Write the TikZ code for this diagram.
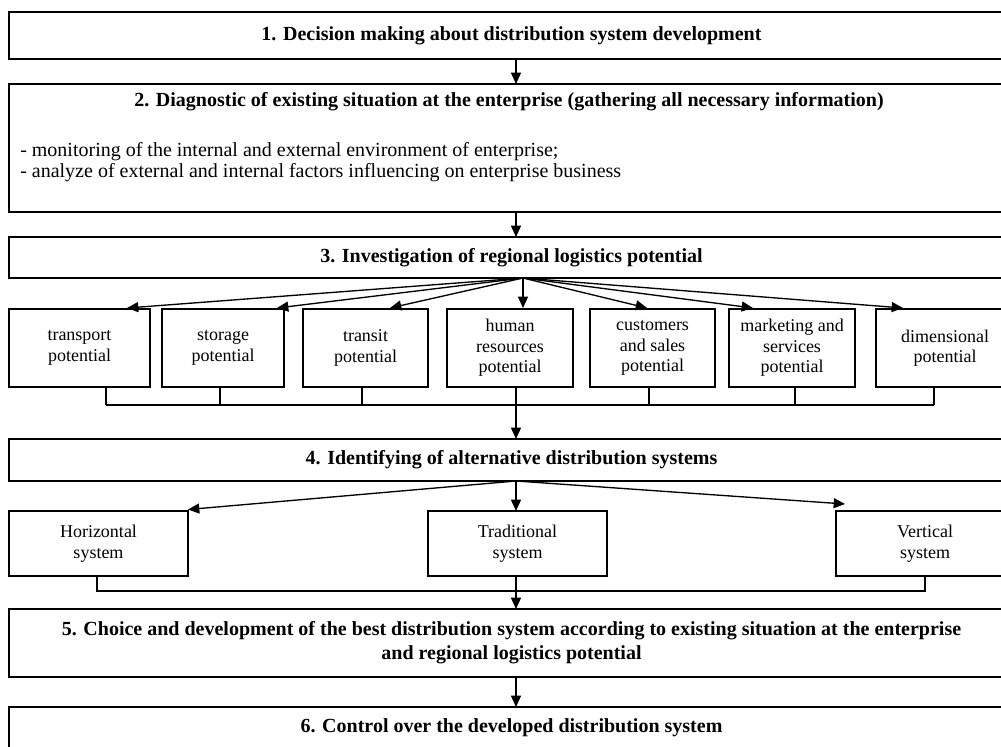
\documentclass[tikz,border=0pt]{standalone}
\usepackage{fontspec}
\setmainfont{Liberation Serif}
\usetikzlibrary{arrows.meta,calc}
\newcommand{\ttlfont}{\fontsize{15}{18}\selectfont\bfseries}
\newcommand{\txtfont}{\fontsize{15}{15.75}\selectfont}
\newcommand{\smfont}{\fontsize{13.5}{15.4}\selectfont}
\begin{document}
\begin{tikzpicture}[x=0.75pt,y=-0.75pt,
  bx/.style 2 args={draw=black, line width=1pt, inner sep=0pt, outer sep=0pt,
     minimum width=#1*0.75pt, minimum height=#2*0.75pt, align=center},
  ln/.style={draw=black, line width=1pt},
  arr/.style={ln, -{Triangle[length=8.5pt,width=7.5pt]}}]
\useasboundingbox (0,0) rectangle (1001,747);
\clip (0,0) rectangle (1001,747);
\fill[white] (0,0) rectangle (1001,747);

% main boxes
\node[bx={1005}{47}, font=\ttlfont] (b1) at (511.5,35.5) {1. Decision making about distribution system development};
\node[bx={1005}{128}] (b2) at (511.5,148) {};
\node[font=\ttlfont, inner sep=0pt] (b2t) at (509,102) {2. Diagnostic of existing situation at the enterprise (gathering all necessary information)};
\node[font=\txtfont, align=left, anchor=west, inner sep=0pt] (b2l) at (20,162) {- monitoring of the internal and external environment of enterprise;\\- analyze of external and internal factors influencing on enterprise business};
\node[bx={1005}{41}, font=\ttlfont] (b3) at (511.5,257.5) {3. Investigation of regional logistics potential};

% potentials
\node[bx={141}{78}, font=\smfont] (tr) at (79.5,348) {transport\\potential};
\node[bx={122}{78}, font=\smfont] (st) at (223,348) {storage\\potential};
\node[bx={125}{78}, font=\smfont] (ti) at (365.5,348) {transit\\potential};
\node[bx={126}{78}, font=\smfont] (hu) at (510,348) {human\\resources\\potential};
\node[bx={125}{78}, font=\smfont] (cu) at (652.5,348) {customers\\and sales\\potential};
\node[bx={126}{78}, font=\smfont] (ma) at (792,348) {marketing and\\services\\potential};
\node[bx={138}{78}, font=\smfont] (di) at (945,348) {dimensional\\potential};

\node[bx={1005}{42}, font=\ttlfont] (b4) at (511.5,460) {4. Identifying of alternative distribution systems};

\node[bx={179}{65}, font=\smfont] (ho) at (98.5,543.5) {Horizontal\\system};
\node[bx={179}{65}, font=\smfont] (tra) at (517.5,543.5) {Traditional\\system};
\node[bx={178}{65}, font=\smfont] (ve) at (925,543.5) {Vertical\\system};

\node[bx={1005}{68}, font=\ttlfont] (b5) at (511.5,643) {5. Choice and development of the best distribution system according to existing situation at the enterprise\\and regional logistics potential};
\node[bx={1005}{42}, font=\ttlfont] (b6) at (511.5,728) {6. Control over the developed distribution system};

% connectors
\draw[arr] ($(b1.south)+(4.5,0)$) -- ($(b2.north)+(4.5,0)$);
\draw[arr] ($(b2.south)+(4.5,0)$) -- ($(b3.north)+(4.5,0)$);

\coordinate (o3) at ($(b3.south)+(11.5,0)$);
\draw[arr] (o3) -- ($(tr.north)+(47.5,-1)$);
\draw[arr] (o3) -- ($(st.north)+(54,-1)$);
\draw[arr] (o3) -- ($(ti.north)+(24.5,-1)$);
\draw[arr] (o3) -- ($(hu.north)+(13,-1)$);
\draw[arr] (o3) -- ($(cu.north)+(-5.5,-1)$);
\draw[arr] (o3) -- ($(ma.north)+(-39,-1)$);
\draw[arr] (o3) -- ($(di.north)+(-42,-1)$);

\coordinate (busL) at ($(tr.south)+(26.5,18)$);
\coordinate (busR) at ($(di.south)+(-11,18)$);
\draw[ln] (busL) -- (busR);
\draw[ln] ($(tr.south)+(26.5,0)$) -- (busL);
\draw[ln] ($(st.south)+(-3,0)$) -- ++(0,18);
\draw[ln] ($(ti.south)+(-3.5,0)$) -- ++(0,18);
\draw[ln] ($(cu.south)+(-3.5,0)$) -- ++(0,18);
\draw[ln] ($(ma.south)+(3,0)$) -- ++(0,18);
\draw[ln] ($(di.south)+(-11,0)$) -- (busR);
\draw[arr] ($(hu.south)+(6,0)$) -- ($(b4.north)+(4.5,0)$);

\coordinate (o4) at ($(b4.south)+(4.5,0)$);
\draw[arr] (o4) -- ($(ho.north)+(89.5,-1.5)$);
\draw[arr] (o4) -- ($(tra.north)+(-1.5,0)$);
\draw[arr] (o4) -- ($(ve.north)+(-80,-7)$);

\coordinate (bus2L) at ($(ho.south)+(-1.5,15)$);
\coordinate (bus2R) at ($(ve.south)+(0,15)$);
\draw[ln] (ho.south -| bus2L) -- (bus2L) -- (bus2R) -- (ve.south);
\draw[arr] ($(tra.south)+(-1.5,0)$) -- ($(b5.north)+(4.5,0)$);
\draw[arr] ($(b5.south)+(4.5,0)$) -- ($(b6.north)+(4.5,0)$);
\end{tikzpicture}
\end{document}
